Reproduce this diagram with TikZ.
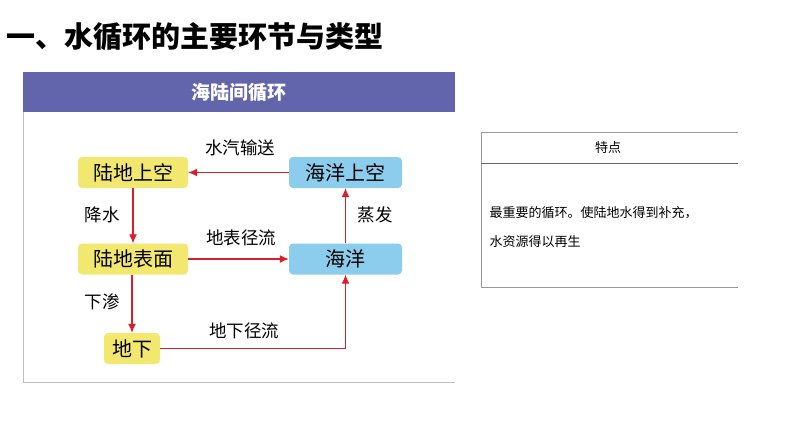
\documentclass[tikz,border=0pt]{standalone}
\usepackage{fontspec}
\setmainfont{Noto Sans CJK SC}
\usetikzlibrary{arrows.meta}
\definecolor{hdr}{RGB}{98,100,172}
\definecolor{yel}{RGB}{242,232,112}
\definecolor{blu}{RGB}{140,204,236}
\definecolor{arr}{RGB}{220,30,40}
\tikzset{x=1pt,y=-1pt,
 box/.style={rounded corners=4pt,minimum height=31pt,font=\fontsize{20}{20}\selectfont,inner sep=0pt},
 lbl/.style={font=\fontsize{17.5}{17.5}\selectfont},
 flow/.style={draw=arr,line width=1.1pt,-{Latex[length=9pt,width=8pt]}}}
\begin{document}
\begin{tikzpicture}
\useasboundingbox (0,0) rectangle (794,447);
\fill[white] (0,0) rectangle (794,447);
\node[anchor=west,font=\bfseries\fontsize{29}{29}\selectfont] (title) at (3,37) {一、水循环的主要环节与类型};
\fill[hdr] (23,72) rectangle (455,112);
\node[white,font=\bfseries\fontsize{19}{19}\selectfont] (head) at (239,92) {海陆间循环};
\draw[gray!50,line width=1pt] (23,112) -- (23,382) -- (455,382);
\node[box,fill=yel,minimum width=110pt] (la) at (133,172.5) {陆地上空};
\node[box,fill=blu,minimum width=113pt] (oa) at (345.5,172.5) {海洋上空};
\node[box,fill=yel,minimum width=110pt] (ls) at (133,259) {陆地表面};
\node[box,fill=blu,minimum width=113pt] (oc) at (345.5,259) {海洋};
\node[box,fill=yel,minimum width=56pt] (ug) at (132,348.5) {地下};
\draw[flow] (oa) -- (la);
\draw[flow] (la) -- (ls);
\draw[flow] (ls) -- (oc);
\draw[flow] (oc) -- (oa);
\draw[flow] (132,259 |- ls.south) -- (132,259 |- ug.north);
\draw[flow] (ug.east) -| (oc.south);
\node[lbl] (l1) at (240,148) {水汽输送};
\node[lbl] (l2) at (102,215) {降水};
\node[lbl] (l3) at (375,215) {蒸发};
\node[lbl] (l4) at (241,238) {地表径流};
\node[lbl] (l5) at (102,302) {下渗};
\node[lbl] (l6) at (244,331) {地下径流};
\draw[gray!80,line width=0.8pt] (738,132) -- (481,132) -- (481,287) -- (738,287);
\draw[gray!80!black,line width=0.8pt] (481,163) -- (738,163);
\node[font=\fontsize{13}{13}\selectfont] (th) at (608,148) {特点};
\node[anchor=west,font=\fontsize{13}{13}\selectfont] (t1) at (486,213) {最重要的循环。使陆地水得到补充，};
\node[anchor=west,font=\fontsize{13}{13}\selectfont] (t2) at (486,242) {水资源得以再生};
\end{tikzpicture}
\end{document}
